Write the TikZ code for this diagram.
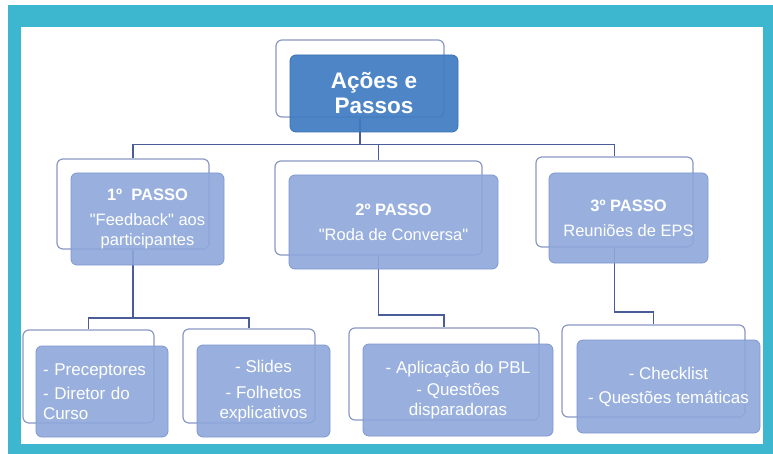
\documentclass[tikz,border=0pt]{standalone}
\usepackage{fontspec}
\setmainfont{Liberation Sans}[Ligatures=TeXOff]
\definecolor{framec}{HTML}{3DB6CF}
\definecolor{topfill}{HTML}{3E7BC2}
\definecolor{topdraw}{HTML}{3A70B2}
\definecolor{boxfill}{HTML}{8EA8DB}
\definecolor{boxdraw}{HTML}{7E97CE}
\definecolor{backdraw}{HTML}{8A99C4}
\definecolor{lineclr}{HTML}{4B5D98}
\tikzset{
  backbox/.style={draw=backdraw, line width=1.2pt, fill=white, rounded corners=6pt, inner sep=0pt},
  frontbox/.style={draw=boxdraw, line width=0.8pt, fill=boxfill, fill opacity=0.9, text opacity=1,
    rounded corners=6pt, inner sep=0pt, text=white, align=center,
    font=\fontsize{16.5}{20}\selectfont},
  leafbox/.style={frontbox, font=\fontsize{17}{20}\selectfont},
  topbox/.style={draw=topdraw, line width=0.8pt, fill=topfill, fill opacity=0.92, text opacity=1,
    rounded corners=6pt, inner sep=0pt, text=white, align=center,
    font=\fontsize{22.5}{25}\selectfont\bfseries},
  conn/.style={draw=lineclr, line width=1.5pt}
}
\begin{document}
\begin{tikzpicture}[x=1pt,y=-1pt]
\useasboundingbox (0,0) rectangle (773,454);
% frame
\fill[framec] (8,5) rectangle (773,454);
\fill[white] (21,27) rectangle (763,444);
% back boxes
\node[backbox, minimum width=168pt, minimum height=77pt] (topB) at (360,78.5) {};
\node[backbox, minimum width=152pt, minimum height=90pt] (p1B) at (133,204) {};
\node[backbox, minimum width=207pt, minimum height=94pt] (p2B) at (378.5,208) {};
\node[backbox, minimum width=157pt, minimum height=90pt] (p3B) at (614.5,202) {};
\node[backbox, minimum width=131pt, minimum height=93pt] (prB) at (88.5,376.5) {};
\node[backbox, minimum width=132pt, minimum height=94pt] (slB) at (249,376) {};
\node[backbox, minimum width=190pt, minimum height=92pt] (apB) at (444,374) {};
\node[backbox, minimum width=183pt, minimum height=92pt] (chB) at (653.5,371) {};
% buses
\coordinate (bus0) at (0,144.5);
\coordinate (bus1) at (0,318);
\coordinate (bus2) at (0,315);
\coordinate (bus3) at (0,312);
% connectors
\draw[conn] (topB.south) |- (p1B.north |- bus0) -- (p1B.north);
\draw[conn] (topB.south) |- (p2B.north |- bus0) -- (p2B.north);
\draw[conn] (topB.south) |- (p3B.north |- bus0) -- (p3B.north);
\draw[conn] (p1B.south) |- (prB.north |- bus1) -- (prB.north);
\draw[conn] (p1B.south) |- (slB.north |- bus1) -- (slB.north);
\draw[conn] (p2B.south) |- (apB.north |- bus2) -- (apB.north);
\draw[conn] (p3B.south) |- (chB.north |- bus3) -- (chB.north);
% front boxes
\node[topbox, minimum width=168pt, minimum height=77pt] (topF) at (374,93.5) {Ações e\\Passos};
\node[frontbox, minimum width=153pt, minimum height=92pt] (p1F) at (147.5,219)
  {\textbf{1º~~PASSO}\\[5pt]"Feedback" aos\\participantes};
\node[frontbox, minimum width=209pt, minimum height=94pt] (p2F) at (393.5,222)
  {\textbf{2º PASSO}\\[5pt]"Roda de Conversa"};
\node[frontbox, minimum width=159pt, minimum height=90pt] (p3F) at (628.5,218)
  {\textbf{3º PASSO}\\[5pt]Reuniões de EPS};
\node[leafbox, minimum width=132pt, minimum height=91pt, align=left, text width=118pt] (prF) at (102,391.5)
  {- Preceptores\\[4pt]- Diretor do\\Curso};
\node[leafbox, minimum width=133pt, minimum height=92pt] (slF) at (263.5,391)
  {- Slides\\[6pt]- Folhetos\\explicativos};
\node[leafbox, minimum width=190pt, minimum height=92pt] (apF) at (458,390)
  {- Aplicação do PBL\\[2pt]- Questões\\disparadoras};
\node[leafbox, minimum width=183pt, minimum height=93pt] (chF) at (668.5,386.5)
  {- Checklist\\[4pt]- Questões temáticas};
\end{tikzpicture}
\end{document}
